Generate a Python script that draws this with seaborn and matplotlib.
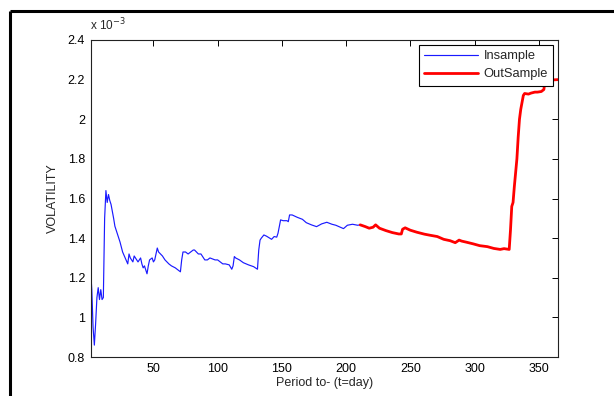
import matplotlib
matplotlib.use("Agg")
import matplotlib.pyplot as plt
import seaborn as sns
import pandas as pd
from matplotlib.lines import Line2D

# Data (volatility in units of 1e-3)
in_day = [1, 2, 3, 4, 5, 6, 7, 8, 9, 10, 11, 12, 13, 14, 15, 16, 17, 19, 20, 22,
          24, 26, 28, 30, 31, 32, 34, 35, 37, 38, 40, 41, 42, 43, 45, 46, 47, 49,
          50, 51, 53, 54, 57, 59, 62, 64, 67, 69, 71, 72, 73, 75, 77, 79, 81, 82,
          85, 87, 90, 92, 94, 98, 100, 102, 104, 106, 109, 111, 112, 113, 114, 117,
          120, 124, 128, 131, 132, 133, 134, 136, 138, 142, 144, 146, 147, 148, 149,
          151, 154, 155, 156, 158, 162, 166, 169, 173, 177, 181, 185, 189, 192, 198,
          201, 205, 209, 211]
in_vol = [1.25, 1.14, 0.95, 0.86, 0.97, 1.10, 1.15, 1.09, 1.14, 1.09, 1.10, 1.50,
          1.64, 1.58, 1.62, 1.59, 1.57, 1.50, 1.46, 1.42, 1.38, 1.33, 1.30, 1.27,
          1.32, 1.30, 1.28, 1.31, 1.29, 1.28, 1.30, 1.27, 1.25, 1.26, 1.22, 1.26,
          1.29, 1.30, 1.28, 1.29, 1.35, 1.33, 1.31, 1.29, 1.27, 1.26, 1.25, 1.24,
          1.23, 1.29, 1.33, 1.33, 1.32, 1.33, 1.34, 1.34, 1.32, 1.32, 1.29, 1.29,
          1.30, 1.29, 1.29, 1.28, 1.27, 1.27, 1.265, 1.243, 1.26, 1.307, 1.30, 1.29,
          1.276, 1.265, 1.256, 1.243, 1.34, 1.39, 1.40, 1.416, 1.41, 1.394, 1.408,
          1.405, 1.425, 1.458, 1.492, 1.488, 1.488, 1.483, 1.517, 1.517, 1.505,
          1.495, 1.478, 1.467, 1.458, 1.472, 1.48, 1.47, 1.465, 1.448, 1.465, 1.47,
          1.465, 1.467]

out_day = [211, 215, 218, 221, 223, 226, 231, 236, 241, 243, 244, 246, 250, 255,
           261, 265, 271, 276, 281, 285, 288, 290, 294, 299, 304, 310, 315, 320,
           323, 327, 328, 329, 330, 331, 333, 334, 335, 336, 338, 339, 342, 344,
           347, 349, 352, 354, 355, 357, 359, 362, 365]
out_vol = [1.467, 1.458, 1.45, 1.455, 1.467, 1.45, 1.438, 1.428, 1.421, 1.421,
           1.445, 1.452, 1.44, 1.43, 1.42, 1.415, 1.408, 1.394, 1.387, 1.377, 1.39,
           1.385, 1.379, 1.371, 1.362, 1.357, 1.348, 1.343, 1.347, 1.343, 1.44,
           1.56, 1.58, 1.66, 1.80, 1.91, 2.00, 2.05, 2.12, 2.13, 2.127, 2.132,
           2.137, 2.137, 2.14, 2.15, 2.20, 2.204, 2.20, 2.199, 2.20]

x_ticks = [50, 100, 150, 200, 250, 300, 350]
y_ticks = [0.8, 1.0, 1.2, 1.4, 1.6, 1.8, 2.0, 2.2, 2.4]
y_tick_labels = ["0.8", "1", "1.2", "1.4", "1.6", "1.8", "2", "2.2", "2.4"]

sns.set_style("white")
plt.rcParams["font.family"] = ["Liberation Sans", "DejaVu Sans"]

fig = plt.figure(figsize=(6.14, 3.96), dpi=100)
fig.patch.set_facecolor("white")

# outer figure frame (only top and left edges fall inside the image)
fx = 10 / 614
fy = 1 - 11 / 396
fig.add_artist(Line2D([fx, 1.0], [fy, fy], transform=fig.transFigure,
                      color="black", linewidth=2.2, solid_capstyle="butt"))
fig.add_artist(Line2D([fx, fx], [fy, 0.0], transform=fig.transFigure,
                      color="black", linewidth=2.2, solid_capstyle="butt"))

ax = fig.add_axes([90.5 / 614, 1 - 357 / 396, (558 - 90.5) / 614, (357 - 40) / 396])

df_in = pd.DataFrame({"day": in_day, "vol": in_vol})
df_out = pd.DataFrame({"day": out_day, "vol": out_vol})
sns.lineplot(data=df_in, x="day", y="vol", ax=ax, color="#1a1aff", linewidth=0.85,
             estimator=None, sort=False, label="Insample")
sns.lineplot(data=df_out, x="day", y="vol", ax=ax, color="#ff0000", linewidth=2.0,
             estimator=None, sort=False, label="OutSample")

ax.set_xlim(1, 365)
ax.set_ylim(0.8, 2.4)
ax.set_xticks(x_ticks)
ax.set_xticklabels([str(t) for t in x_ticks])
ax.set_yticks(y_ticks)
ax.set_yticklabels(y_tick_labels)
ax.tick_params(direction="in", length=4, width=0.7, top=True, right=True,
               labelsize=9, colors="black", pad=4)
for s in ax.spines.values():
    s.set_visible(True)
    s.set_color("#222222")
    s.set_linewidth(0.8)

ax.set_xlabel("Period to- (t=day)", fontsize=9, labelpad=2)
ax.set_ylabel("VOLATILITY", fontsize=9, labelpad=6)

ax.text(0.0, 1.02, r"x 10$^{-3}$", transform=ax.transAxes, fontsize=8.5,
        ha="left", va="bottom")

leg = ax.legend(loc="upper right", bbox_to_anchor=(0.99, 0.985), fontsize=9.3,
                frameon=True, fancybox=False, framealpha=1, edgecolor="black",
                borderpad=0.42, handlelength=4.2, handletextpad=0.4,
                labelspacing=0.45, borderaxespad=0.0)
leg.get_frame().set_linewidth(0.8)

fig.savefig("out.png", dpi=100, facecolor="white")
